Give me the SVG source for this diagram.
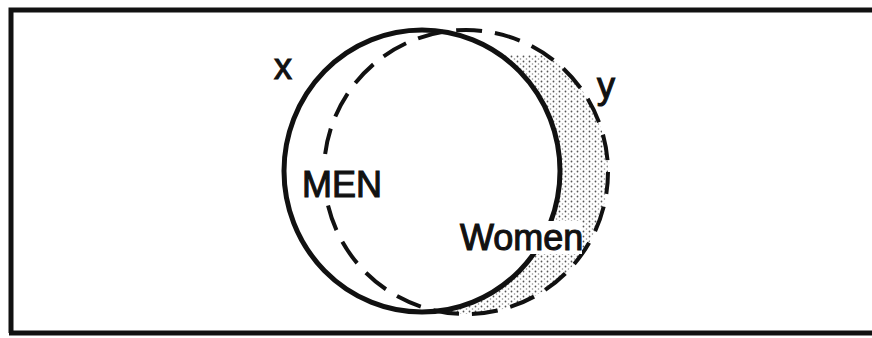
<svg xmlns="http://www.w3.org/2000/svg" width="872" height="338" viewBox="0 0 872 338">
<style>
.lbl{font-family:"Liberation Sans",Arial,sans-serif;font-size:36px;fill:#111;stroke:#111;stroke-width:1.1}
.knock{fill:#fff}
.edge{stroke:#111;stroke-width:5;fill:none}
</style>
<defs>
<pattern id="dots" width="6" height="5" patternUnits="userSpaceOnUse">
<circle cx="1.5" cy="1.5" r="0.9" fill="#555"/>
<circle cx="4.5" cy="4" r="0.8" fill="#888"/>
</pattern>
<mask id="crescent">
<rect x="0" y="0" width="872" height="338" fill="#000"/>
<circle cx="466" cy="172" r="142" fill="#fff"/>
<ellipse cx="422" cy="171" rx="138" ry="141" fill="#000"/>
<rect x="400" y="0" width="230" height="55" fill="#000"/>
</mask>
</defs>
<g id="frame">
<rect x="11" y="11" width="870" height="322" fill="#fff"/>
<path class="edge" d="M11 333 V10 H872 M9 333 H872"/>
</g>
<g id="women-shading">
<rect x="400" y="20" width="230" height="310" fill="url(#dots)" mask="url(#crescent)"/>
</g>
<g id="men">
<ellipse cx="422" cy="171" rx="138" ry="141" fill="none" stroke="#111" stroke-width="5"/>
</g>
<g id="women">
<circle cx="466" cy="172" r="142" fill="none" stroke="#111" stroke-width="4" stroke-dasharray="26 13" stroke-dashoffset="4"/>
</g>
<g id="labels">
<rect class="knock" x="300" y="166" width="84" height="34"/>
<text class="lbl" x="302" y="197">MEN</text>
<rect class="knock" x="458" y="221" width="124" height="33"/>
<text class="lbl" x="460" y="250">Women</text>
<text class="lbl" x="274" y="79">x</text>
<text class="lbl" x="597" y="98">y</text>
</g>
</svg>
